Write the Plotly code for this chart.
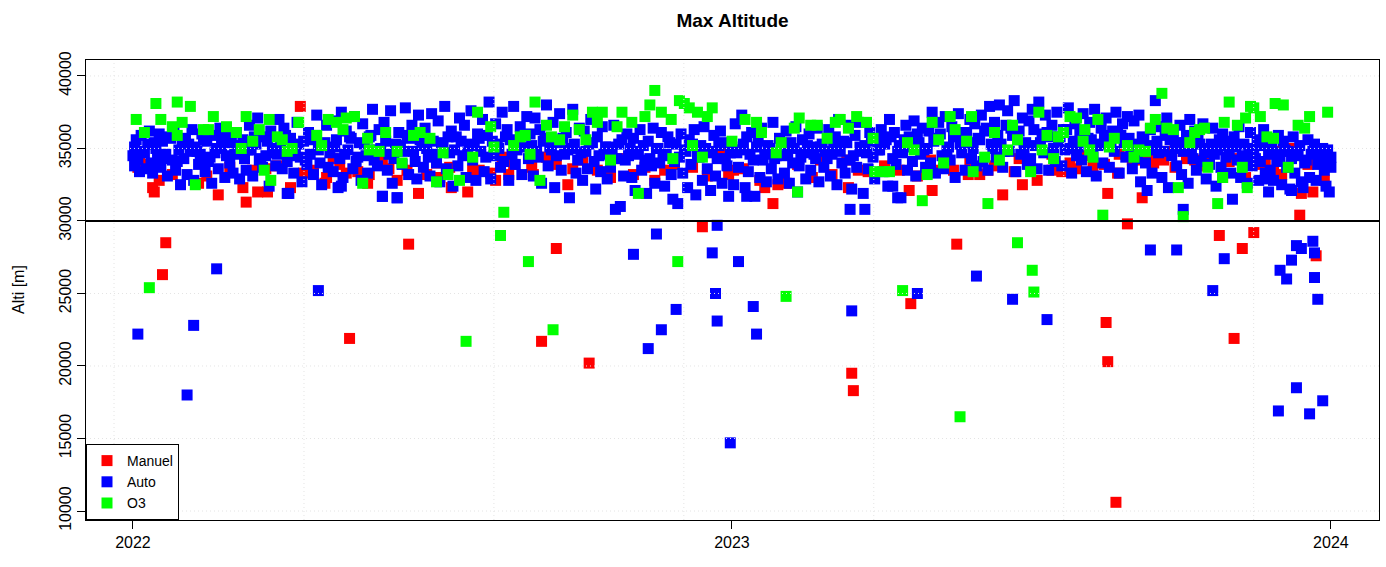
import pandas as pd
import plotly.graph_objects as go

BASE = pd.Timestamp("2022-01-01")

# (day offset from 2022-01-01, max altitude in m)
MANUEL = [
    (3, 33700), (4, 34300), (8, 33900), (12, 32300), (13, 32000), (16, 32800), (24, 33200), (40, 32600),
    (45, 33100), (52, 31800), (59, 33700), (67, 32300), (69, 31300), (73, 33500), (76, 32000), (81, 33600),
    (82, 32000), (88, 33800), (96, 32300), (102, 37900), (104, 33300), (110, 33500), (117, 32600), (118, 33000),
    (122, 34300), (126, 33900), (130, 33300), (137, 33400), (143, 32600), (144, 33200), (152, 34100), (156, 33600),
    (161, 32800), (167, 33500), (174, 31900), (179, 33200), (185, 34000), (187, 33000), (193, 33700), (194, 32300),
    (204, 32000), (207, 33500), (211, 33500), (218, 33300), (221, 32800), (225, 34400), (229, 33200), (232, 33900),
    (243, 33700), (244, 33200), (252, 34400), (258, 33900), (265, 32500), (268, 33600), (274, 34200), (283, 33500),
    (291, 33000), (297, 34300), (305, 33200), (312, 33700), (318, 32800), (324, 33500), (330, 33900), (341, 33700),
    (350, 33100), (358, 34900), (363, 33200), (366, 33500), (372, 33600), (382, 32800), (385, 32300), (390, 31200),
    (393, 32500), (398, 32600), (405, 33900), (414, 33000), (419, 34200), (426, 33200), (435, 34200), (436, 32300),
    (442, 33500), (448, 33400), (458, 33800), (467, 33500), (473, 32100), (478, 33100), (486, 34200), (487, 32100),
    (489, 33500), (495, 33700), (500, 33500), (509, 33200), (510, 34100), (516, 33200), (521, 33500), (525, 33800),
    (530, 31800), (537, 33400), (540, 34300), (542, 32500), (551, 32800), (560, 33500), (560, 34600), (566, 33400),
    (571, 34000), (575, 33600), (580, 34500), (585, 33700), (592, 33900), (594, 31900), (600, 33300), (601, 34600),
    (609, 34200), (614, 34200), (615, 31600), (620, 34700), (622, 34000), (628, 34200), (629, 34800), (635, 33700),
    (640, 34800), (642, 34300), (647, 34200), (650, 33800), (655, 34300), (664, 33000), (668, 34100), (673, 34300),
    (678, 33000), (685, 33900), (690, 34000), (695, 33500), (700, 34800), (700, 33200), (707, 35000), (712, 31900),
    (716, 33900), (719, 32000), (726, 32800),
    (18, 26300), (20, 28500), (132, 21900), (168, 28400), (249, 21700), (258, 28100), (278, 20200), (347, 29600),
    (438, 19500), (439, 18300), (474, 24300), (502, 28400), (593, 23000), (594, 20300), (599, 10600), (606, 29800),
    (662, 29000), (671, 21900), (676, 28100), (683, 29200), (711, 30400), (721, 27600),
]

AUTO_2022 = [
    (0, 34500), (1, 33800), (2, 35600), (3, 34200), (4, 33400), (5, 35900), (6, 34800), (8, 33600), (9, 35300),
    (10, 36200), (11, 34000), (12, 33300), (14, 35000), (15, 34400), (16, 36000), (17, 33700), (18, 35500),
    (20, 34600), (21, 33100), (22, 35800), (24, 34200), (25, 36300), (26, 33500), (28, 34900), (29, 32500), (30, 35400),
    (31, 34300), (32, 35700), (33, 33200), (35, 34800), (36, 36300), (37, 32800), (38, 35100), (40, 33900),
    (41, 34600), (42, 36000), (44, 33400), (45, 35500), (46, 34100), (48, 32600), (49, 35900), (50, 34700),
    (52, 33600), (53, 36400), (54, 35200), (56, 33000), (57, 34500), (58, 35800),
    (59, 34000), (60, 35400), (61, 33300), (63, 36100), (64, 34700), (65, 32900), (67, 35600), (68, 34300),
    (69, 33500), (71, 36600), (72, 34900), (73, 33100), (75, 35300), (76, 37100), (77, 34200), (79, 33700),
    (80, 35800), (81, 34500), (83, 32400), (84, 36200), (85, 35000), (87, 33800), (88, 34600), (89, 37000),
    (90, 35200), (91, 33600), (92, 36400), (94, 34100), (95, 31900), (96, 35700), (98, 33300), (99, 34800),
    (100, 36800), (102, 34400), (103, 32700), (104, 35500), (106, 33900), (107, 36100), (108, 34600), (110, 33200),
    (111, 35900), (112, 37300), (114, 34000), (115, 32500), (116, 35300), (118, 36600), (119, 33700),
    (120, 34700), (121, 36900), (122, 33400), (124, 35600), (125, 32300), (126, 34300), (127, 37500), (128, 33000),
    (130, 36200), (131, 34900), (132, 35800), (134, 33600), (135, 37200), (136, 34100), (138, 35400), (139, 32800),
    (140, 36700), (142, 34500), (143, 33300), (145, 35900), (146, 37700), (147, 34200), (149, 33800), (150, 36300),
    (151, 35000), (152, 31700), (153, 36800), (155, 33500), (156, 34600), (157, 37600), (158, 32600), (160, 35300),
    (161, 31600), (162, 36100), (164, 33900), (165, 34800), (166, 37800), (168, 33200), (169, 35700), (170, 36600),
    (172, 34100), (173, 32900), (174, 37300), (176, 35200), (177, 33700), (178, 36400), (180, 34400),
    (181, 33100), (182, 37400), (183, 35500), (185, 34000), (186, 36900), (187, 32700), (189, 35100), (190, 37900),
    (191, 33600), (193, 34700), (194, 36200), (195, 32400), (197, 35800), (198, 33800), (199, 37100), (201, 34500),
    (202, 36600), (203, 33000), (205, 35300), (206, 37600), (207, 34200), (209, 32800), (210, 36000),
    (212, 34800), (213, 37000), (214, 33400), (216, 35900), (217, 38200), (218, 32900), (220, 34500), (221, 36700),
    (222, 35300), (224, 33700), (225, 37500), (226, 34100), (228, 36300), (229, 32800), (230, 35600), (232, 37900),
    (233, 33900), (234, 34900), (236, 36500), (237, 33200), (238, 35100), (240, 37200), (241, 34300), (242, 36000),
    (243, 35200), (244, 33100), (245, 37100), (247, 34400), (248, 36300), (249, 32600), (251, 35700), (252, 38000),
    (253, 33800), (255, 34900), (256, 36800), (257, 32300), (259, 35400), (260, 37400), (261, 33500), (263, 34600),
    (264, 36100), (266, 31600), (267, 35000), (268, 37700), (270, 33300), (271, 34200), (272, 36400),
    (273, 34700), (274, 32800), (275, 36200), (277, 33600), (278, 35300), (279, 37000), (281, 34100), (282, 32200),
    (283, 35800), (285, 33400), (286, 36500), (287, 34600), (289, 32900), (290, 35100), (291, 33700), (293, 36600),
    (294, 30800), (295, 34300), (297, 31000), (298, 35600), (299, 33100), (301, 36000), (302, 34500),
    (304, 33000), (305, 35700), (306, 32100), (308, 34800), (309, 36300), (310, 33500), (312, 34200), (313, 31900),
    (314, 35500), (316, 33800), (317, 36400), (318, 32600), (320, 35000), (321, 34000), (322, 36100), (324, 32400),
    (325, 34600), (326, 35800), (328, 33200), (329, 31500), (331, 35300), (332, 31200), (333, 34400),
    (334, 36000), (335, 33300), (336, 34900), (338, 32300), (339, 35600), (340, 33900), (342, 36300), (343, 31800),
    (344, 34500), (346, 35200), (347, 32800), (348, 36500), (350, 33600), (351, 34800), (352, 32100), (354, 35900),
    (355, 33100), (356, 34300), (358, 36200), (359, 32600), (360, 35400), (362, 33800), (363, 31700), (364, 34700),
]

AUTO_2023 = [
    (365, 35100), (366, 32500), (367, 36700), (369, 33700), (370, 34900), (371, 37300), (373, 32300), (374, 35800),
    (375, 33400), (377, 36100), (378, 34200), (379, 31700), (381, 35500), (382, 33000), (383, 36400), (385, 34600),
    (386, 32700), (387, 35200), (389, 33600), (390, 36800), (391, 34300), (393, 32900), (394, 35700),
    (396, 34500), (397, 33300), (398, 36200), (400, 32600), (401, 35400), (402, 34000), (404, 36500), (405, 32000),
    (406, 33800), (408, 35600), (409, 34700), (410, 32900), (412, 36000), (413, 33500), (414, 35100), (416, 34300),
    (417, 36400), (418, 32700), (420, 35300), (421, 33700), (422, 34800),
    (424, 36300), (425, 33100), (426, 34600), (428, 35800), (429, 32500), (430, 37000), (432, 34000), (433, 35500),
    (434, 33300), (436, 36600), (437, 34200), (438, 32200), (440, 35900), (441, 33700), (442, 36800), (444, 34800),
    (445, 31900), (446, 35200), (448, 33600), (449, 36100), (451, 34400), (452, 32900), (453, 35600),
    (455, 34900), (456, 36300), (457, 33400), (459, 35600), (460, 32400), (461, 37000), (463, 34300), (464, 36100),
    (465, 33900), (467, 35200), (468, 31600), (469, 34700), (471, 36600), (472, 33500), (473, 35800), (475, 34100),
    (476, 36900), (477, 33100), (479, 35400), (480, 34600), (481, 36400), (483, 33700), (484, 35000),
    (485, 36200), (486, 34000), (487, 37500), (489, 33300), (490, 35700), (491, 36800), (493, 34500), (494, 33600),
    (495, 37200), (497, 35100), (498, 34200), (499, 36500), (501, 33000), (502, 35900), (503, 37400), (505, 34700),
    (506, 36100), (507, 33500), (509, 35400), (510, 37000), (511, 34300), (513, 36700), (514, 33800),
    (516, 35600), (517, 37300), (518, 34100), (520, 36400), (521, 33500), (522, 37900), (524, 35000), (525, 36800),
    (526, 34400), (528, 38000), (529, 35300), (530, 33700), (532, 36600), (533, 37600), (534, 34800), (536, 35900),
    (537, 38300), (538, 33400), (540, 36200), (541, 34600), (542, 37100), (544, 35400), (545, 33900),
    (546, 36900), (547, 34300), (548, 37700), (550, 35200), (551, 33600), (552, 38200), (554, 36000), (555, 34700),
    (556, 37300), (558, 33500), (559, 35800), (560, 36600), (562, 34100), (563, 37500), (564, 35500), (566, 33800),
    (567, 36300), (568, 34900), (570, 37800), (571, 35000), (572, 33300), (574, 36700), (575, 34500),
    (577, 36000), (578, 34200), (579, 37400), (581, 33400), (582, 35700), (583, 36800), (585, 34600), (586, 37700),
    (587, 33100), (589, 35300), (590, 36400), (591, 34000), (593, 37100), (594, 35500), (595, 33700), (597, 36200),
    (598, 34800), (599, 37500), (601, 33300), (602, 35900), (603, 36700), (605, 34400), (606, 37200),
    (608, 35100), (609, 33600), (610, 36900), (612, 34300), (613, 37300), (614, 32700), (616, 35600), (617, 34000),
    (618, 32100), (620, 36300), (621, 33300), (622, 35200), (623, 38300), (625, 34700), (626, 36500), (627, 33000),
    (629, 35900), (630, 37100), (631, 32300), (633, 34500), (634, 36100), (636, 33800), (637, 35400),
    (638, 36600), (639, 33200), (640, 34800), (642, 35900), (643, 32600), (644, 37000), (646, 34300), (647, 36200),
    (648, 33500), (650, 35300), (651, 34100), (652, 36700), (654, 32900), (655, 35000), (656, 33900), (658, 36400),
    (659, 34600), (660, 32400), (662, 35600), (663, 33700), (664, 36000), (666, 34400), (667, 35200),
    (669, 33300), (670, 31500), (671, 35800), (673, 34200), (674, 36500), (675, 33000), (677, 35300), (678, 34500),
    (679, 32600), (681, 36100), (682, 33800), (683, 34900), (685, 35600), (686, 32800), (687, 34100), (689, 36300),
    (690, 33300), (691, 32900), (692, 32000), (693, 33500), (694, 35100), (695, 32800), (696, 34700), (698, 35900),
    (699, 34300), (700, 32500), (701, 35500), (703, 33700), (704, 34800), (705, 32200), (706, 32100), (707, 35800),
    (708, 33300), (710, 34500), (711, 35200), (712, 32700), (713, 32300), (714, 34000), (716, 35600), (717, 33000),
    (718, 34600), (720, 35300), (721, 32800), (722, 33900), (724, 34400), (725, 35000), (726, 33500), (727, 32400),
    (728, 34900), (729, 32000), (730, 34400), (730, 33700),
]

AUTO_CORE = [
    (1, 35100), (7, 34700), (13, 35400), (19, 34300), (23, 35700), (27, 34100), (34, 35300), (39, 34800),
    (43, 35600), (47, 34400), (51, 35000), (55, 35900), (62, 34600), (66, 35200), (70, 34900), (74, 35800),
    (78, 34300), (82, 35500), (86, 34700), (93, 35900), (97, 34500), (101, 35300), (105, 34200), (109, 35600),
    (113, 34900), (117, 35400), (123, 35100), (129, 34600), (133, 35700), (137, 34400), (141, 35300), (144, 35800),
    (148, 34900), (154, 35500), (159, 34300), (163, 35200), (167, 35900), (171, 34800), (175, 35600), (179, 35000),
    (184, 34600), (188, 35400), (192, 35800), (196, 34900), (200, 35500), (204, 34700), (208, 35200), (211, 35700),
    (215, 34400), (219, 35500), (223, 35000), (227, 35800), (231, 34600), (235, 35300), (239, 35900), (246, 34800),
    (250, 35500), (254, 35100), (258, 34500), (262, 35700), (265, 34900), (269, 35300), (276, 34800), (280, 35400),
    (284, 34500), (288, 35100), (292, 34700), (296, 35300), (300, 34200), (303, 35000), (307, 34600), (311, 35200),
    (315, 34300), (319, 35000), (323, 34500), (327, 35400), (330, 34100), (337, 34800), (341, 35300), (345, 34400),
    (349, 35000), (353, 34700), (357, 35200), (361, 34300), (368, 34700), (372, 35300), (376, 34600), (380, 35100),
    (384, 34200), (388, 35000), (392, 34500), (395, 35300), (399, 34700), (403, 35000), (407, 34400), (411, 35200),
    (415, 34600), (419, 35100), (423, 34300), (427, 35300), (431, 34800), (435, 35400), (439, 34500), (443, 35100),
    (447, 34700), (450, 35500), (454, 34900), (458, 35300), (462, 35800), (466, 34800), (470, 35600), (474, 35100),
    (478, 36000), (482, 34900), (488, 35500), (492, 36000), (496, 34900), (500, 35800), (504, 35300), (508, 36100),
    (512, 35000), (515, 35700), (519, 36200), (523, 35300), (527, 35900), (531, 34800), (535, 36400), (539, 35600),
    (543, 35000), (549, 36300), (553, 35400), (557, 36100), (561, 35000), (565, 35800), (569, 36300), (573, 35500),
    (576, 35100), (580, 36100), (584, 35600), (588, 35200), (592, 35900), (596, 35300), (600, 36000), (604, 35400),
    (607, 35700), (611, 35300), (615, 35800), (619, 34900), (624, 35500), (628, 34800), (632, 35600), (635, 35000),
    (641, 35400), (645, 34900), (649, 35700), (653, 34700), (657, 35300), (661, 34900), (665, 35500), (668, 34600),
    (672, 35100), (676, 34400), (680, 35000), (684, 34300), (688, 35200), (692, 34600), (697, 34100), (702, 34900),
    (706, 34300), (709, 34700), (715, 34200), (719, 34800), (723, 34500), (727, 34100),
]

AUTO_LOW = [
    (3, 22200), (33, 18000), (37, 22800), (51, 26700), (113, 25200), (127, 32400), (94, 31900), (152, 31700),
    (161, 31600), (305, 27700), (314, 21200), (319, 29100), (322, 22500), (331, 23900), (353, 27800),
    (355, 25000), (356, 29700), (356, 23100), (364, 14700), (369, 27200), (374, 31700), (378, 24100), (380, 22200),
    (437, 30800), (438, 23800), (446, 30800), (463, 32400), (466, 31600), (478, 25000), (514, 26200), (536, 24600),
    (557, 23200), (620, 28000), (636, 28000), (640, 30800), (658, 25200), (665, 27400), (698, 16900), (699, 26600),
    (703, 26000), (706, 27300), (709, 28300), (709, 18500), (712, 28100), (717, 16700), (719, 28600), (720, 27800),
    (720, 26100), (722, 24600), (725, 17600),
]

O3 = [
    (2, 37000), (7, 36100), (14, 38100), (17, 37000), (24, 36500), (27, 38200), (27, 35900), (30, 36800),
    (35, 37900), (38, 32500), (43, 36300), (46, 36300), (49, 37200), (57, 36500), (63, 36100), (66, 35000),
    (69, 37200), (73, 35500), (77, 36300), (80, 33500), (83, 37000), (84, 32800), (88, 35800), (91, 35600),
    (94, 34800), (97, 35000), (101, 36800), (112, 35900), (115, 35200), (119, 37000), (124, 36800), (128, 36300),
    (130, 37100), (135, 37200), (140, 32600), (143, 35700), (144, 34900), (150, 34800), (154, 36100), (161, 34800),
    (164, 34000), (171, 35900), (175, 36100), (181, 35700), (185, 32700), (189, 34700), (192, 33200), (199, 32800),
    (207, 34400), (210, 37500), (218, 36500), (220, 35100), (226, 30600), (232, 35200), (236, 35800), (239, 35900),
    (242, 34600), (245, 38200), (248, 32800), (252, 36600), (255, 35800), (260, 35600), (263, 36500), (268, 37300),
    (272, 36300), (276, 35600), (280, 37500), (283, 36800), (286, 37500), (291, 34200), (295, 36500), (298, 37500),
    (304, 36800), (308, 31900), (312, 37200), (315, 38000), (318, 39000), (322, 37500), (328, 37000), (329, 34300),
    (333, 38300), (336, 38100), (339, 37800), (341, 35200), (344, 37500), (347, 34400), (350, 37200), (353, 37800),
    (365, 35500), (373, 37000), (380, 36800), (383, 36100), (392, 34700), (395, 35400), (403, 36400), (405, 32000),
    (406, 37100), (413, 36600), (417, 36600), (423, 35700), (428, 36800), (431, 37000), (436, 36400), (441, 37200),
    (447, 36800), (451, 35700), (452, 33400), (458, 33400), (461, 33400), (472, 35400), (476, 34900), (481, 31400),
    (484, 33200), (487, 36800), (491, 35600), (494, 34000), (498, 37200), (501, 36300), (508, 35500), (511, 37200),
    (512, 33400), (519, 34400), (521, 31200), (525, 36100), (528, 34200), (533, 34900), (536, 36600), (539, 35600),
    (547, 33400), (552, 37500), (554, 34900), (557, 35900), (561, 34300), (564, 35800), (567, 36100), (571, 37200),
    (575, 37100), (579, 35500), (580, 36300), (583, 34900), (585, 34400), (588, 37000), (591, 30400), (595, 35100),
    (598, 35700), (606, 35200), (610, 34400), (613, 34900), (617, 34800), (620, 36400), (623, 37000), (627, 38800),
    (630, 36400), (634, 36300), (637, 32300), (640, 30300), (644, 35400), (647, 36100), (650, 36300), (653, 36400),
    (655, 33700), (661, 31200), (664, 33000), (665, 36800), (668, 38200), (673, 36600), (676, 33700), (678, 37100),
    (679, 32300), (681, 37900), (683, 37800), (687, 37200), (691, 35800), (695, 35700), (696, 38100), (701, 38000),
    (704, 33700), (710, 36600), (714, 36400), (717, 37200), (728, 37500),
    (10, 25400), (203, 21700), (224, 29000), (241, 27200), (256, 22500), (332, 27200), (398, 24800), (469, 25200),
    (504, 16500), (539, 28500), (548, 26600), (549, 25100),
]

SERIES = [
    ("Manuel", MANUEL, "#ff0000"),
    ("Auto", AUTO_2022 + AUTO_2023 + AUTO_CORE + AUTO_LOW, "#0000ff"),
    ("O3", O3, "#00ff00"),
]

Y_TICKS = [10000, 15000, 20000, 25000, 30000, 35000, 40000]
X_TICKS = ["2022-01-01", "2023-01-01", "2024-01-01"]
X_LABELS = ["2022", "2023", "2024"]
FONT = "Liberation Sans, Arial, Helvetica, sans-serif"

fig = go.Figure()
for name, pts, color in SERIES:
    fig.add_trace(go.Scatter(
        x=[BASE + pd.Timedelta(days=d) for d, _ in pts],
        y=[a for _, a in pts],
        mode="markers", name=name,
        marker=dict(symbol="square", size=11, color=color, line=dict(width=0)),
    ))

x0 = BASE - pd.Timedelta(days=28.6)
x1 = BASE + pd.Timedelta(days=759.3)

shapes = []
grid = dict(color="#e4e4e4", width=1, dash="1px,3px")
for yv in Y_TICKS:
    shapes.append(dict(type="line", xref="paper", x0=0, x1=1, yref="y", y0=yv, y1=yv,
                       line=grid, layer="above"))
# R grid() on POSIXct axis: pretty breaks every 1e7 seconds
for k in range(164, 172):
    t = pd.to_datetime(k * 10_000_000, unit="s")
    if x0 < t < x1:
        shapes.append(dict(type="line", xref="x", x0=t, x1=t, yref="paper", y0=0, y1=1,
                           line=grid, layer="above"))
shapes.append(dict(type="line", xref="paper", x0=0, x1=1, yref="y", y0=30000, y1=30000,
                   line=dict(color="black", width=2), layer="above"))

fig.update_layout(
    width=1386, height=567,
    margin=dict(l=86, r=7, t=60, b=47, autoexpand=False),
    paper_bgcolor="white", plot_bgcolor="white",
    font=dict(family=FONT, size=16, color="black"),
    title=dict(text="<b>Max Altitude</b>", font=dict(size=19, family=FONT, color="black"),
               x=0.5, xref="paper", xanchor="center", y=1 - 20 / 567, yref="container", yanchor="middle"),
    xaxis=dict(range=[x0, x1], tickvals=X_TICKS, ticktext=X_LABELS, ticks="outside", ticklen=8,
               tickcolor="black", showline=True, mirror=True, linecolor="black", linewidth=1,
               showgrid=False, zeroline=False, tickfont=dict(size=16)),
    yaxis=dict(range=[9380, 41100], tickvals=Y_TICKS, ticktext=[str(v) for v in Y_TICKS],
               tickangle=-90, ticks="outside", ticklen=8, tickcolor="black", showline=True, mirror=True,
               linecolor="black", linewidth=1, showgrid=False, zeroline=False, tickfont=dict(size=16)),
    legend=dict(x=0, y=0, xanchor="left", yanchor="bottom", bgcolor="white", bordercolor="black",
                borderwidth=1, font=dict(size=14), itemwidth=30, tracegroupgap=0),
    shapes=shapes,
    annotations=[dict(text="Alti [m]", xref="paper", yref="paper", x=(18 - 86) / 1293, y=0.5,
                      xanchor="center", yanchor="middle", textangle=-90, showarrow=False,
                      font=dict(size=16))],
)

fig.write_html("out.html")
